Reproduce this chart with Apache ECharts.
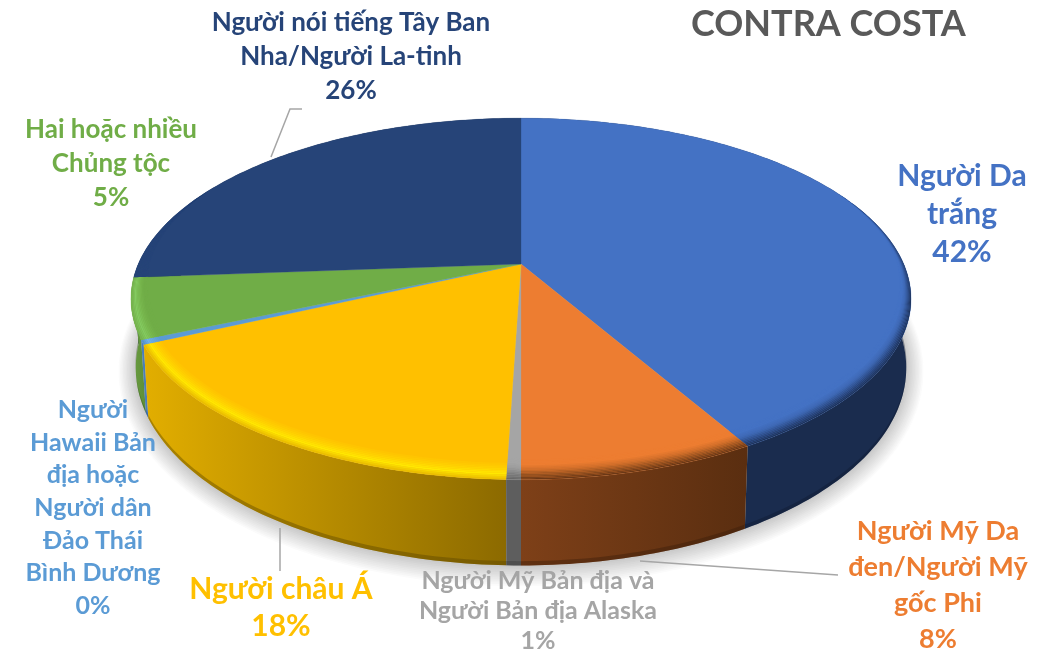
<!DOCTYPE html>
<html><head><meta charset="utf-8">
<style>html,body{margin:0;padding:0;background:#fff}#c{width:1045px;height:653px}</style>
<script src="https://cdn.jsdelivr.net/npm/echarts@6/dist/echarts.min.js"></script>
</head><body><div id="c"></div>
<script>
const titleText = 'CONTRA COSTA';
const categories = ['Người Da\ntrắng','Người Mỹ Da\nđen/Người Mỹ\ngốc Phi','Người Mỹ Bản địa và\nNgười Bản địa Alaska','Người châu Á','Người\nHawaii Bản\nđịa hoặc\nNgười dân\nĐảo Thái\nBình Dương','Hai hoặc nhiều\nChủng tộc','Người nói tiếng Tây Ban\nNha/Người La-tinh'];
const values = [41.8, 8.2, 0.5, 17.5, 0.4, 5.4, 26.2];
const topColors = ['#4472C4','#ED7D31','#A5A5A5','#FFC000','#5B9BD5','#70AD47','#264478'];
const rimStops = [
  ['#4472C4','#4472C4','#3E68B4','#2C4A84','#1C2F54'],
  ['#ED7D31','#ED7D31','#D06E2A','#96511F','#643414'],
  ['#A5A5A5','#A5A5A5','#9A9A9A','#7E7E7E','#666666'],
  ['#FFC000','#FFC000','#FFD000','#FFE800','#E6B800'],
  ['#5B9BD5','#5B9BD5','#66A6E0','#70B2EA','#5490C6'],
  ['#70AD47','#70AD47','#78B84E','#84CA60','#74B04C'],
  ['#264478','#264478','#264478','#264478','#264478']
];
const sideLeft = ['#1A2C4E','#7E4018','#5E5E5E','#E2AE00','#4A7EBB','#6A9E40','#1A2C4E'];
const sideRight = ['#1A2C4E','#5A2E10','#5E5E5E','#8C6A00','#4A7EBB','#5E8E38','#1A2C4E'];
const labelColors = ['#4472C4','#ED7D31','#A5A5A5','#FFC000','#5B9BD5','#70AD47','#264478'];

const total = values.reduce((a,b)=>a+b,0);
const starts = []; values.reduce((a,b,i)=>(starts[i]=a,a+b),0);
const topPlane = {cx:521, cy:264, A:174, B:382.7, k:0.193};
const botPlane = {cx:521, cy:330, A:190, B:378, k:0.193};
const toTheta = f => f/total*2*Math.PI;
function pt(p, th){
  const u=Math.sin(th), v=-Math.cos(th), s=1/(1-p.k*v);
  return [p.cx+p.B*u*s, p.cy+p.A*v*s];
}
function arc(p, a, b, fn){
  const n=Math.max(2,Math.ceil((b-a)/(Math.PI/180)));
  const r=[];
  for(let i=0;i<=n;i++){const t=a+(b-a)*i/n; const q=pt(p,t); r.push(fn?fn(q,t):q);}
  return r;
}
function bevel(f){
  return (q,t)=>{
    const u=Math.sin(t), v=-Math.cos(t);
    const g=Math.max(0,Math.min(1,(v+0.45)/0.5));
    const side=u<0?0.032:0.018;
    const rho=g*(side+0.075*Math.max(v,0));
    const m=1-f*rho;
    return [topPlane.cx+(q[0]-topPlane.cx)*m, topPlane.cy+(q[1]-topPlane.cy)*m];
  };
}
function lerpPts(a,b,t){return a.map((q,i)=>[q[0]+(b[i][0]-q[0])*t,q[1]+(b[i][1]-q[1])*t]);}

function shadowLayers(){
  const layers=12, out=[];
  for(let j=layers;j>=1;j--){
    const p=Object.assign({},botPlane,{B:botPlane.B+j*1.4,A:botPlane.A+j*1.4});
    const c=echarts.color.lerp(j/(layers+1),['#C6C6C6','#FFFFFF']);
    out.push({type:'polygon',z:0,z2:layers-j,silent:true,shape:{points:arc(p,0,2*Math.PI-0.001)},style:{fill:c}});
  }
  return out;
}
function renderSide(params, api){
  const i=params.dataIndex, a=toTheta(starts[i]), b=toTheta(starts[i]+api.value(0));
  const t=arc(topPlane,a,b), d=arc(botPlane,a,b);
  const mid=(a+b)/2, z=Math.round(100*(-Math.cos(mid)))+200;
  const xs=[...t,...d].map(q=>q[0]), x0=Math.min(...xs), x1=Math.max(...xs);
  const grad=new echarts.graphic.LinearGradient(x0,0,x1,0,
    [{offset:0,color:sideLeft[i]},{offset:1,color:sideRight[i]}],true);
  const nearBot=lerpPts(t,d,0.95);
  const dark=echarts.color.lerp(0.4,[sideRight[i],'#000000']);
  return {type:'group', children:[
    {type:'polygon',z2:z,shape:{points:t.concat(d.slice().reverse())},style:{fill:grad}},
    {type:'polygon',z2:z+1,shape:{points:nearBot.concat(d.slice().reverse())},style:{fill:dark,opacity:0.4}}
  ]};
}
function renderTop(params, api){
  const i=params.dataIndex, a=toTheta(starts[i]), b=toTheta(starts[i]+api.value(0));
  const children=[{type:'polygon',z2:1,
    shape:{points:[[topPlane.cx,topPlane.cy]].concat(arc(topPlane,a,b))},
    style:{fill:topColors[i],stroke:topColors[i],lineWidth:0.3}}];
  const bands=14;
  for(let j=0;j<bands;j++){
    const f0=1-j/bands, f1=1-(j+1)/bands;
    const c=echarts.color.lerp((j+0.5)/bands,rimStops[i]);
    const outer=arc(topPlane,a,b,bevel(f1)), inner=arc(topPlane,a,b,bevel(f0));
    children.push({type:'polygon',z2:2+j,shape:{points:outer.concat(inner.reverse())},
      style:{fill:c}});
  }
  return {type:'group',children};
}

const labelFont = '"Lato","Noto Sans",sans-serif';
const labelLayout = [
  {x:962,y:214,size:30,lh:38},
  {x:938,y:585,size:27,lh:36},
  {x:538,y:611,size:25,lh:30},
  {x:281,y:608,size:30,lh:37},
  {x:93,y:508,size:25,lh:32.6},
  {x:111,y:164,size:26,lh:34},
  {x:351,y:57,size:26,lh:34}
];
const leaderLines = [
  [[271,157],[290,109],[302,109]],
  [[280,528],[280,571]],
  [[640,561],[838,575]]
];
const graphics = shadowLayers().concat(categories.map((c,i)=>({
  type:'text', x:labelLayout[i].x, y:labelLayout[i].y, silent:true, z:10,
  style:{text:c+'\n'+Math.round(values[i])+'%', fill:labelColors[i], align:'center', verticalAlign:'middle',
    font:'bold '+labelLayout[i].size+'px '+labelFont, lineHeight:labelLayout[i].lh}
}))).concat(leaderLines.map(p=>({type:'polyline',shape:{points:p},silent:true, z:10,
  style:{stroke:'#A6A6A6',lineWidth:1.5,fill:null}})));

const chart = echarts.init(document.getElementById('c'),null,{renderer:'canvas'});
chart.setOption({
  animation:false,
  backgroundColor:'#fff',
  title:{text:titleText,left:686,top:1,textStyle:{color:'#595959',fontFamily:labelFont,fontWeight:'bold',fontSize:36}},
  graphic:{elements:graphics},
  series:[
    {type:'custom',name:'sides',coordinateSystem:'none',z:2,silent:true,renderItem:renderSide,data:values},
    {type:'custom',name:'tops',coordinateSystem:'none',z:3,silent:true,renderItem:renderTop,data:values}
  ]
});
</script></body></html>
